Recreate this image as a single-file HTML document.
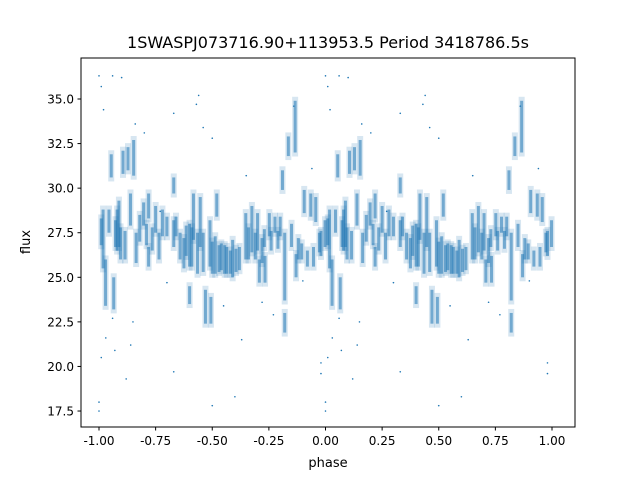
<!DOCTYPE html>
<html><head><meta charset="utf-8"><style>
body{margin:0;background:#fff;font-family:"Liberation Sans","DejaVu Sans",sans-serif}
svg text{font-family:"DejaVu Sans","Liberation Sans",sans-serif}
</style></head><body>
<svg id="c" width="640" height="480" xmlns="http://www.w3.org/2000/svg">
<rect width="640" height="480" fill="#fff"/>
<text x="328" y="48" font-size="16" text-anchor="middle">1SWASPJ073716.90+113953.5 Period 3418786.5s</text>
<g id="marks"></g>
<rect x="81" y="58" width="494" height="369" fill="none" stroke="#000" stroke-width="1"/>
<g id="axes"></g>
<text x="328" y="467" font-size="13" text-anchor="middle">phase</text>
<text x="30" y="242" font-size="13" text-anchor="middle" transform="rotate(-90 30 242)">flux</text>
</svg>
<script>
const streakPhase=[0.98,0.029,0.044,0.054,0.073,0.088,0.106,0.128,0.139,0.153,0.164,0.197,0.219,0.219,0.25,0.28,0.30,0.33,0.33,0.34,0.358,0.385,0.40,0.40,0.417,0.435,0.447,0.47,0.49,0.494,0.513,0.52,0.54,0.564,0.59,0.62,0.648,0.675,0.70,0.708,0.73,0.733,0.752,0.777,0.80,0.81,0.82,0.82,0.836,0.85,0.866,0.87,0.895,0.906,0.92,0.935,0.947,0.957,0.973,0.998,0.018,0.065,0.08,0.095,0.115,0.18,0.21,0.235,0.265,0.375,0.41,0.46,0.50,0.53,0.555,0.58,0.605,0.66,0.69,0.72,0.76,0.79,0.88,0.01];
const streakHigh=[27.6,26.0,28.8,31.9,28.2,29.3,32.1,32.3,29.7,32.7,27.5,29.2,29.7,26.7,29.0,28.8,28.4,28.2,30.6,28.4,27.5,27.9,28.0,24.5,29.7,27.5,29.5,24.3,28.2,23.9,27.3,29.7,26.9,26.7,27.1,26.7,28.6,29.0,28.6,26.0,27.7,26.2,28.6,28.4,28.4,31.0,27.5,23.0,32.9,28.0,34.9,26.3,26.9,29.9,26.5,29.7,26.7,29.5,27.5,28.2,28.8,25.0,28.8,27.8,27.6,28.5,28.0,27.8,27.5,27.2,27.8,27.5,27.0,26.8,26.8,26.5,26.6,27.8,27.5,27.2,27.6,27.6,27.2,28.3];
const streakLow=[26.2,23.4,27.5,30.6,26.7,26.7,30.8,31.0,27.9,30.7,25.8,27.9,28.3,25.6,27.5,27.3,27.3,26.7,29.7,27.3,26.0,26.2,25.6,23.5,27.1,25.2,26.7,22.4,25.6,22.4,25.2,28.4,25.4,25.2,25.0,25.4,26.0,26.4,26.5,24.7,26.7,24.7,27.3,27.5,27.3,29.9,23.7,21.9,31.8,26.7,32.0,25.0,26.0,28.6,25.6,28.4,25.6,28.1,26.4,26.7,25.5,23.2,26.5,26.0,26.0,27.0,26.8,26.5,26.0,25.5,25.6,25.3,25.2,25.3,25.2,25.2,25.3,26.0,26.0,25.8,26.5,26.6,26.0,26.8];
const outPhase=[0.0,0.01,0.06,0.1,0.0,0.0,0.5,0.33,0.01,0.03,0.06,0.15,0.14,0.33,0.43,0.44,0.6,0.63,0.98,0.98,0.65,0.72,0.2,0.16,0.86,0.94,0.55,0.3,0.27,0.5,0.46,0.07,0.12,0.02,0.9,0.77];
const outFlux=[36.3,35.7,36.3,36.2,17.5,18.0,17.8,19.7,20.5,21.6,22.7,22.5,21.2,34.2,34.7,35.2,18.3,21.5,20.2,19.6,30.7,23.6,33.1,33.6,34.6,31.1,23.4,24.7,28.7,32.8,33.4,20.9,19.3,34.4,24.8,22.9];
const xTicks=[-1,-0.75,-0.5,-0.25,0,0.25,0.5,0.75,1];
const yTicks=[17.5,20,22.5,25,27.5,30,32.5,35];
const X=p=>325.5+p*226.5;
const Y=f=>99+(35-f)*17.83;
const NS="http://www.w3.org/2000/svg";
const marks=document.getElementById('marks');
const axes=document.getElementById('axes');
function mk(t,a,parent){const e=document.createElementNS(NS,t);for(const k in a)e.setAttribute(k,a[k]);parent.appendChild(e);return e;}
for(let i=0;i<streakPhase.length;i++){
  for(const off of [-1,0]){
    const p=streakPhase[i]+off;
    const h=mk('rect',{x:X(p)-3,y:Y(streakHigh[i])-4,width:6,height:Y(streakLow[i])-Y(streakHigh[i])+8,fill:'#1f77b4','fill-opacity':0.18},marks);
    
    
    const r=mk('rect',{x:X(p)-1.5,y:Y(streakHigh[i]),width:3,height:Y(streakLow[i])-Y(streakHigh[i]),fill:'#1f77b4','fill-opacity':0.55},marks);
    
    
  }
}
for(let i=0;i<outPhase.length;i++){
  for(const off of [-1,0]){
    const c=mk('circle',{cx:X(outPhase[i]+off),cy:Y(outFlux[i]),r:0.8,fill:'#1f77b4'},marks);
    
    
  }
}
xTicks.forEach(t=>{
  const x=X(t);
  const l=mk('line',{x1:x,x2:x,y1:427,y2:430.5,stroke:'#000'},axes);
  
  
  const s=mk('text',{x:x,y:445,'font-size':12,'text-anchor':'middle'},axes);
  s.textContent=t.toFixed(2);
  
  
});
yTicks.forEach(t=>{
  const y=Y(t);
  const l=mk('line',{x1:77.5,x2:81,y1:y,y2:y,stroke:'#000'},axes);
  
  
  const s=mk('text',{x:74,y:y+4.5,'font-size':12,'text-anchor':'end'},axes);
  s.textContent=t.toFixed(1);
  
  
});
</script>
</body></html>
